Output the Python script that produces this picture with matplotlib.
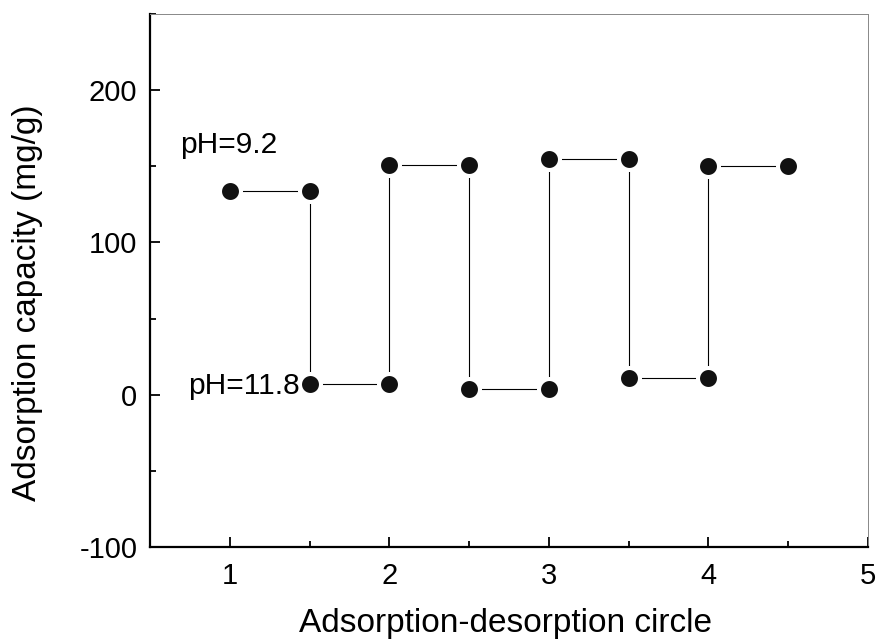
import matplotlib
matplotlib.use("Agg")
import matplotlib.pyplot as plt
from matplotlib.ticker import MultipleLocator

plt.rcParams['font.family'] = ['Liberation Sans', 'DejaVu Sans']
plt.rcParams['axes.unicode_minus'] = False

# cycle positions (each adsorption / desorption step) and capacities
cycle = [1, 1.5, 1.5, 2, 2, 2.5, 2.5, 3, 3, 3.5, 3.5, 4, 4, 4.5]
capacity = [134, 134, 7, 7, 151, 151, 4, 4, 155, 155, 11, 11, 150, 150]

fig = plt.figure(figsize=(8.78, 6.42), dpi=100)
ax = fig.add_axes([150/878, 1 - 547/642, (868-150)/878, (547-14)/642])

ax.plot(cycle, capacity, color='black', linewidth=0.8, zorder=1)
# white edge leaves the small gap between line and dot
ax.plot(cycle, capacity, linestyle='none', marker='o', markersize=15.1,
        markerfacecolor='#111111', markeredgecolor='white', markeredgewidth=2.9,
        zorder=2)

ax.text(0.69, 164, 'pH=9.2', fontsize=21.5, va='center', ha='left')
ax.text(1.44, 6, 'pH=11.8', fontsize=21.5, va='center', ha='right')

ax.set_xlim(0.5, 5)
ax.set_ylim(-100, 250)
ax.xaxis.set_major_locator(MultipleLocator(1))
ax.xaxis.set_minor_locator(MultipleLocator(0.5))
ax.yaxis.set_major_locator(MultipleLocator(100))
ax.yaxis.set_minor_locator(MultipleLocator(50))
ax.set_xticks([1, 2, 3, 4, 5])
ax.tick_params(which='both', direction='in', labelsize=21, width=1.3)
ax.tick_params(which='major', length=7.5)
ax.tick_params(which='minor', length=4.3)
ax.tick_params(axis='x', which='major', pad=11)
ax.tick_params(axis='y', which='major', pad=9)

for s in ['left', 'bottom']:
    ax.spines[s].set_linewidth(1.6)
for s in ['top', 'right']:
    ax.spines[s].set_linewidth(0.7)
    ax.spines[s].set_color('#888888')

ax.set_xlabel('Adsorption-desorption circle', fontsize=24)
ax.xaxis.set_label_coords(0.495, -0.16)
ax.xaxis.label.set_va('baseline')
ax.set_ylabel('Adsorption capacity (mg/g)', fontsize=24)
ax.yaxis.set_label_coords(-0.171, 0.458)
ax.yaxis.label.set_va('center')

fig.savefig('out.png', dpi=100)
